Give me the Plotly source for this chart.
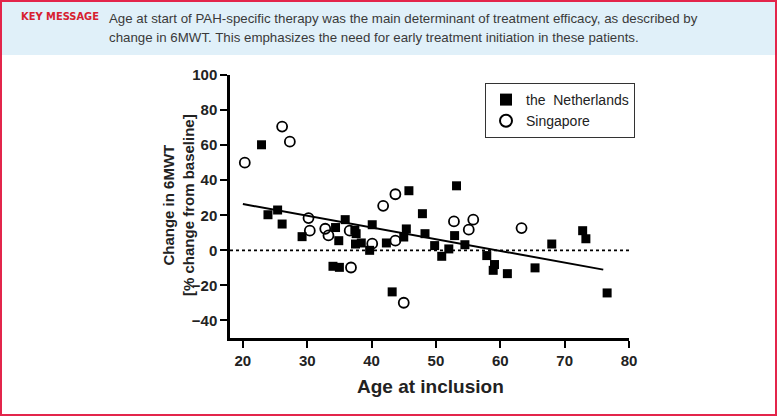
import plotly.graph_objects as go

# ---- data ----
nl_age = [22.9, 23.9, 25.4, 26.1, 29.2, 34.0, 35.0, 34.4, 34.9, 35.9, 37.4, 37.6, 37.5, 38.4,
          39.7, 40.1, 42.3, 43.2, 45.0, 45.4, 45.8, 47.9, 48.3, 49.8, 50.9, 52.0, 52.9, 53.2,
          54.5, 57.9, 58.9, 59.1, 61.1, 65.4, 68.0, 72.8, 73.3, 76.6]
nl_change = [60.2, 20.3, 23.0, 15.0, 7.8, -9.1, -9.7, 13.0, 5.5, 17.5, 11.5, 9.5, 3.6, 4.2,
             0.0, 14.6, 4.2, -23.7, 7.6, 12.2, 34.0, 20.9, 9.5, 2.7, -3.4, 0.8, 8.4, 36.8,
             3.2, -3.0, -11.4, -8.1, -13.3, -10.0, 3.6, 11.2, 6.6, -24.3]
sg_age = [20.3, 26.1, 27.3, 30.2, 30.4, 32.8, 33.3, 36.6, 36.8, 40.1, 41.8, 43.7, 43.7,
          45.0, 52.8, 55.1, 55.8, 63.3]
sg_change = [50.0, 70.6, 62.0, 18.4, 11.2, 12.3, 8.5, 11.2, -9.8, 3.8, 25.4, 32.0, 5.5,
             -29.9, 16.5, 11.8, 17.5, 12.7]
trend_age = [20.0, 76.0]
trend_change = [26.4, -11.0]
x_ticks = [20, 30, 40, 50, 60, 70, 80]
y_ticks = [-40, -20, 0, 20, 40, 60, 80, 100]

W, H = 777, 416
ML, MR, MT, MB = 230, 148, 75, 78
PW, PH = W - ML - MR, H - MT - MB


def px(x):
    return (x - ML) / PW


def py(y):
    return (H - MB - y) / PH


RED = "#e3254b"
fig = go.Figure()

fig.add_trace(go.Scatter(x=trend_age, y=trend_change, mode="lines",
                         line=dict(color="black", width=2), showlegend=False,
                         hoverinfo="skip"))
fig.add_trace(go.Scatter(x=[18, 80], y=[0, 0], mode="lines",
                         line=dict(color="black", width=1.6, dash="3px,3px"),
                         showlegend=False, hoverinfo="skip"))
fig.add_trace(go.Scatter(x=nl_age, y=nl_change, mode="markers",
                         name="the\u00a0 Netherlands",
                         marker=dict(symbol="square", size=9, color="black",
                                     line=dict(width=0))))
fig.add_trace(go.Scatter(x=sg_age, y=sg_change, mode="markers", name="Singapore",
                         marker=dict(symbol="circle-open", size=10, color="black",
                                     line=dict(width=1.8, color="black"))))

axis_font = dict(family="Liberation Sans, Arial", size=15, color="#222", weight="bold")
fig.update_xaxes(range=[18, 80], tickvals=x_ticks, showgrid=False, zeroline=False,
                 showline=True, linecolor="black", linewidth=2.5, ticks="outside",
                 ticklen=7, tickwidth=2, tickcolor="black", tickfont=axis_font)
fig.update_yaxes(range=[-50, 100], tickvals=y_ticks, showgrid=False, zeroline=False,
                 showline=True, linecolor="black", linewidth=2.5, ticks="outside",
                 ticklen=7, tickwidth=2, tickcolor="black", tickfont=axis_font)

shapes = [
    dict(type="rect", xref="paper", yref="paper", x0=px(2), x1=px(775), y0=py(2), y1=py(55),
         fillcolor="#e0f0f9", line=dict(width=0), layer="below"),
    dict(type="rect", xref="paper", yref="paper", x0=px(1), x1=px(776), y0=py(1), y1=py(415),
         fillcolor="rgba(0,0,0,0)", line=dict(color=RED, width=2)),
]

hdr_font = dict(family="Liberation Sans Narrow, DejaVu Sans Condensed, Liberation Sans",
                size=11, color="#d7202f", weight="bold")
body_font = dict(family="Liberation Sans, Arial", size=13.3, color="#3a3a3a")
annotations = [
    dict(text="KEY MESSAGE", xref="paper", yref="paper", x=px(101), y=py(17),
         xanchor="right", yanchor="middle", showarrow=False, font=hdr_font),
    dict(text="Age at start of PAH-specific therapy was the main determinant of treatment efficacy, as described by",
         xref="paper", yref="paper", x=px(107), y=py(18), xanchor="left", yanchor="middle",
         showarrow=False, font=body_font),
    dict(text="change in 6MWT. This emphasizes the need for early treatment initiation in these patients.",
         xref="paper", yref="paper", x=px(107), y=py(37), xanchor="left", yanchor="middle",
         showarrow=False, font=body_font),
    dict(text="<b>Age at inclusion</b>", xref="paper", yref="paper", x=px(430), y=py(386),
         xanchor="center", yanchor="middle", showarrow=False,
         font=dict(family="Liberation Sans, Arial", size=19, color="#222")),
    dict(text="<b>Change in 6MWT<br>[% change from baseline]</b>", xref="paper", yref="paper",
         x=px(178), y=py(205), xanchor="center", yanchor="middle", textangle=-90,
         showarrow=False,
         font=dict(family="Liberation Sans, Arial", size=15, color="#222")),
]

fig.update_layout(
    width=W, height=H, margin=dict(l=ML, r=MR, t=MT, b=MB),
    paper_bgcolor="white", plot_bgcolor="white",
    shapes=shapes, annotations=annotations,
    legend=dict(x=px(485), y=py(83), xanchor="left", yanchor="top",
                bordercolor="#333", borderwidth=1, bgcolor="white",
                font=dict(family="Liberation Sans, Arial", size=14, color="#222"),
                tracegroupgap=4, itemsizing="constant"),
)

fig.write_html("out.html", config={"displayModeBar": False},
               post_script="document.body.style.margin='0';document.body.style.overflow='hidden';")
